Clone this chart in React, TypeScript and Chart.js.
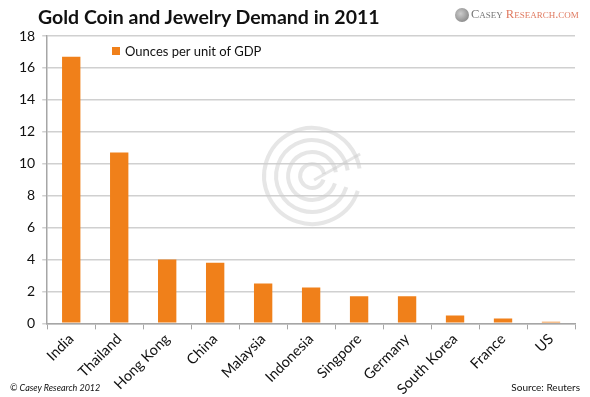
import React, { useEffect, useRef } from "react";
import { Chart, registerables } from "chart.js";

Chart.register(...registerables);

const categories = ["India", "Thailand", "Hong Kong", "China", "Malaysia", "Indonesia", "Singpore", "Germany", "South Korea", "France", "US"];
const ounces = [16.7, 10.7, 4.0, 3.8, 2.5, 2.25, 1.7, 1.7, 0.5, 0.3, 0.1];
const seriesLabel = "Ounces per unit of GDP";
const titleText = "Gold Coin and Jewelry Demand in 2011";
const footerLeft = "© Casey Research 2012";
const footerRight = "Source: Reuters";

const FONT = "Lato, 'Open Sans', sans-serif";
const ORANGE = "#f0801a";

const watermark = {
  id: "watermark",
  beforeDatasetsDraw(chart: any) {
    const { ctx, chartArea } = chart;
    const cx = chartArea.left + (chartArea.right - chartArea.left) * 0.5 + 1;
    const cy = chartArea.top + 140;
    ctx.save();
    ctx.strokeStyle = "rgba(205,205,205,0.5)";
    ctx.lineWidth = 4;
    [48, 36, 24, 12].forEach((r) => {
      ctx.beginPath();
      ctx.arc(cx, cy, r, 0.1 * Math.PI, 1.95 * Math.PI);
      ctx.stroke();
    });
    ctx.lineWidth = 3;
    ctx.beginPath();
    ctx.moveTo(cx + 2, cy + 4);
    ctx.lineTo(cx + 48, cy - 22);
    ctx.stroke();
    ctx.restore();
  },
};

export default function App() {
  const ref = useRef<HTMLCanvasElement | null>(null);
  useEffect(() => {
    document.body.style.margin = "0";
    const chart = new Chart(ref.current as HTMLCanvasElement, {
      type: "bar",
      data: {
        labels: categories,
        datasets: [
          {
            label: seriesLabel,
            data: ounces,
            backgroundColor: ORANGE,
            barPercentage: 0.85,
            categoryPercentage: 0.45,
          },
        ],
      },
      options: {
        animation: false,
        responsive: false,
        layout: { padding: { top: 36, right: 15, bottom: -2, left: 12 } },
        plugins: {
          legend: { display: false },
          title: { display: false },
          tooltip: { enabled: false },
        },
        scales: {
          x: {
            grid: { display: true, drawOnChartArea: false, drawTicks: true, tickLength: 6, color: "#a6a6a6", offset: true },
            border: { color: "#a6a6a6", width: 1.5 },
            ticks: {
              maxRotation: 45,
              minRotation: 45,
              color: "#111",
              font: { family: FONT, size: 14.5 },
              padding: 1,
            },
          },
          y: {
            min: 0,
            max: 18,
            grid: { color: "#d0d0d0", lineWidth: 1.5, tickLength: 5 },
            border: { color: "#a6a6a6", width: 1.5 },
            ticks: {
              stepSize: 2,
              color: "#111",
              font: { family: FONT, size: 14 },
              padding: 7,
            },
          },
        },
      },
      plugins: [watermark],
    });
    return () => chart.destroy();
  }, []);

  return (
    <div style={{ position: "relative", width: 590, height: 397, background: "#fff", fontFamily: FONT, overflow: "hidden" }}>
      <canvas ref={ref} width={590} height={397} style={{ position: "absolute", left: 0, top: 0 }} />
      <div style={{ position: "absolute", left: 38, top: 5, fontSize: 19.5, fontWeight: 700, color: "#111", whiteSpace: "nowrap" }}>
        {titleText}
      </div>
      <div style={{ position: "absolute", left: 455, top: 7, whiteSpace: "nowrap", display: "flex", alignItems: "center", fontFamily: "'Liberation Serif', serif" }}>
        <span style={{ display: "inline-block", width: 14, height: 14, borderRadius: 7, background: "radial-gradient(circle at 40% 40%, #ccc, #777)", marginRight: 2 }} />
        <span style={{ color: "#777", fontSize: 12.5, fontVariant: "small-caps" }}>Casey</span>
        <span style={{ color: "#e07a60", fontSize: 12.5, fontVariant: "small-caps", marginLeft: 3 }}>Research.com</span>
      </div>
      <div style={{ position: "absolute", left: 112, top: 43, display: "flex", alignItems: "center", whiteSpace: "nowrap", fontSize: 13, color: "#111" }}>
        <span style={{ display: "inline-block", width: 8, height: 8, background: ORANGE, marginRight: 5 }} />
        {seriesLabel}
      </div>
      <div style={{ position: "absolute", left: 10, top: 382, fontSize: 9, fontStyle: "italic", color: "#111", whiteSpace: "nowrap" }}>
        {footerLeft}
      </div>
      <div style={{ position: "absolute", right: 10, top: 381, fontSize: 10, color: "#111", whiteSpace: "nowrap" }}>
        {footerRight}
      </div>
    </div>
  );
}
